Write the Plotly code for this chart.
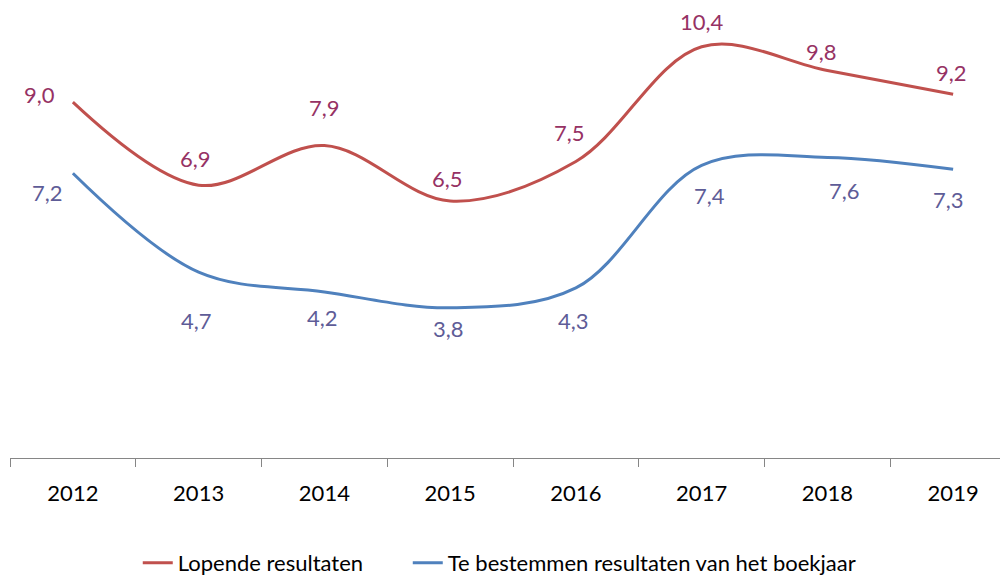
import plotly.graph_objects as go

years = ["2012", "2013", "2014", "2015", "2016", "2017", "2018", "2019"]
lopende = [9.0, 6.9, 7.9, 6.5, 7.5, 10.4, 9.8, 9.2]
bestemmen = [7.2, 4.7, 4.2, 3.8, 4.3, 7.4, 7.6, 7.3]

name_red = "Lopende resultaten"
name_blue = "Te bestemmen resultaten van het boekjaar"

# label offsets (pixels) for data labels
red_dx = [-33, -3, 0, -3, -6, 0, -6, -2]
red_dy = [8, 27, 38, 22, 29, 25, 19, 22]
blue_dx = [-25, -2, -2, -2, -2, 8, 17, -5]
blue_dy = [-19, -48, -26, -21, -33, -30, -33, -30]

RED = "#C0504D"
BLUE = "#4F81BD"
RED_TXT = "#963264"
BLUE_TXT = "#5E5C97"
FONT = "Lato, Open Sans, sans-serif"

fig = go.Figure()
fig.add_trace(go.Scatter(x=years, y=lopende, mode="lines", name=name_red, legend="legend",
                         line=dict(color=RED, width=3, shape="spline", smoothing=1.0)))
fig.add_trace(go.Scatter(x=years, y=bestemmen, mode="lines", name=name_blue, legend="legend2",
                         line=dict(color=BLUE, width=3, shape="spline", smoothing=1.0)))

for i in range(len(years)):
    fig.add_annotation(x=i, y=lopende[i], xref="x", yref="y",
                       text=f"{lopende[i]:.1f}".replace(".", ","),
                       showarrow=False, xshift=red_dx[i], yshift=red_dy[i],
                       font=dict(family=FONT, size=22, color=RED_TXT))
    fig.add_annotation(x=i, y=bestemmen[i], xref="x", yref="y",
                       text=f"{bestemmen[i]:.1f}".replace(".", ","),
                       showarrow=False, xshift=blue_dx[i], yshift=blue_dy[i],
                       font=dict(family=FONT, size=22, color=BLUE_TXT))

leg_common = dict(orientation="h", xanchor="left", y=-0.233, yanchor="middle",
                  font=dict(family=FONT, size=22, color="black"))

fig.update_layout(
    width=1008, height=576,
    margin=dict(l=2, r=0, t=0, b=123),
    paper_bgcolor="white", plot_bgcolor="white",
    font=dict(family=FONT, size=22, color="black"),
    showlegend=True,
    legend=dict(x=0.127, **leg_common),
    legend2=dict(x=0.3954, **leg_common),
    xaxis=dict(type="category", range=[-0.5, 7.5], showgrid=False, zeroline=False,
               showline=True, linecolor="#868686", linewidth=1,
               ticks="outside", tickson="boundaries", ticklen=8, tickcolor="#868686",
               ticklabelstandoff=16,
               tickfont=dict(family=FONT, size=22, color="black")),
    yaxis=dict(range=[0, 11.38], visible=False, showgrid=False, zeroline=False),
)

fig.write_html("out.html")
